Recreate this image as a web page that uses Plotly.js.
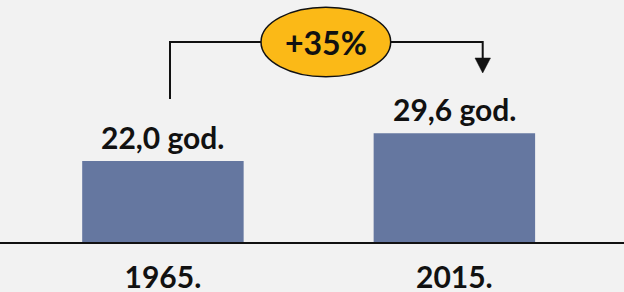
<!DOCTYPE html>
<html>
<head>
<meta charset="utf-8">
<script src="https://cdn.plot.ly/plotly-3.0.1.min.js"></script>
<style>
html,body{margin:0;padding:0;background:#f2f2f2;}
#chart{width:624px;height:292px;}
</style>
</head>
<body>
<div id="chart"></div>
<script>
const years = ['1965.', '2015.'];
const medianAge = [22.0, 29.6];
const unit = ' god.';

const W = 624, H = 292, B = 50;
const PH = H - B;
// pixel -> paper helpers for decorative annotation layout
const px = x => x / W;
const py = y => (PH - y) / PH;

const change = Math.round((medianAge[1] / medianAge[0] - 1) * 100);
const changeLabel = (change >= 0 ? '+' : '') + change + '%';

const font = {family: 'Lato, "Open Sans", sans-serif', size: 30, color: '#111', weight: 'bold'};

const trace = {
  type: 'bar',
  x: years,
  y: medianAge,
  width: 0.554,
  marker: {color: '#6577a0', line: {width: 0}},
  hoverinfo: 'skip'
};

const valueLabels = years.map((yr, i) => ({
  xref: 'x', yref: 'y', x: i, y: medianAge[i],
  text: medianAge[i].toFixed(1).replace('.', ',') + unit,
  showarrow: false, font: font,
  xanchor: 'center', yanchor: 'bottom', yshift: 4
}));

const layout = {
  width: W, height: H,
  margin: {l: 0, r: 0, t: 0, b: B, pad: 0},
  paper_bgcolor: '#f2f2f2',
  plot_bgcolor: '#f2f2f2',
  showlegend: false,
  font: font,
  xaxis: {
    type: 'category',
    range: [-0.559, 1.582],
    showgrid: false, zeroline: false,
    showline: true, linecolor: '#111', linewidth: 2,
    ticks: '', tickfont: font, ticklabelstandoff: 8,
    fixedrange: true
  },
  yaxis: {
    range: [0, 65.8],
    visible: false, showgrid: false, zeroline: false,
    fixedrange: true
  },
  shapes: [
    {type: 'path', xref: 'paper', yref: 'paper',
     path: `M ${px(170)} ${py(99)} L ${px(170)} ${py(42)} L ${px(482.7)} ${py(42)} L ${px(482.7)} ${py(60)}`,
     line: {color: '#111', width: 2}},
    {type: 'path', xref: 'paper', yref: 'paper',
     path: `M ${px(475)} ${py(58)} L ${px(490.5)} ${py(58)} L ${px(482.7)} ${py(73)} Z`,
     fillcolor: '#111', line: {color: '#111', width: 0.5}},
    {type: 'circle', xref: 'paper', yref: 'paper',
     x0: px(261), x1: px(390.7), y0: py(76.7), y1: py(7.3),
     fillcolor: '#fbb917', line: {color: '#111', width: 1.5}}
  ],
  annotations: valueLabels.concat([
    {xref: 'paper', yref: 'paper', x: px(326), y: py(43),
     text: changeLabel, showarrow: false,
     font: Object.assign({}, font, {size: 32}),
     xanchor: 'center', yanchor: 'middle'}
  ])
};

Plotly.newPlot('chart', [trace], layout, {displayModeBar: false, staticPlot: true});
</script>
</body>
</html>
